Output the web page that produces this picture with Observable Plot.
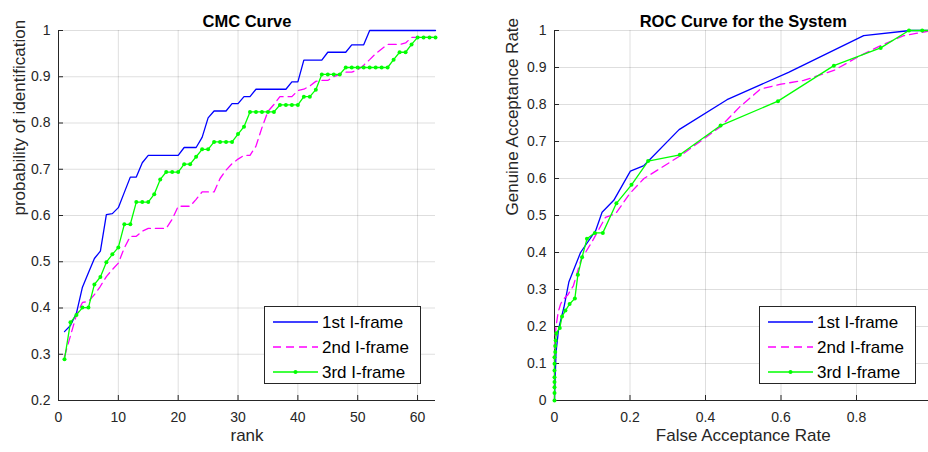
<!DOCTYPE html>
<html><head><meta charset="utf-8">
<script src="https://cdn.jsdelivr.net/npm/d3@7"></script>
<script src="https://cdn.jsdelivr.net/npm/@observablehq/plot@0.6"></script>
<style>
html,body{margin:0;padding:0;background:#fff;}
#wrap{position:relative;width:928px;height:452px;overflow:hidden;font-family:"Liberation Sans",Arial,sans-serif;}
#wrap .pane{position:absolute;top:0;}
.legend{position:absolute;background:#fff;border:1px solid #262626;box-sizing:border-box;}
</style></head><body><div id="wrap"></div>
<script>
// ---------- CMC data ----------
const rank = [1,2,3,4,5,6,7,8,9,10,11,12,13,14,15,16,17,18,19,20,21,22,23,24,25,26,27,28,29,30,31,32,33,34,35,36,37,38,39,40,41,42,43,44,45,46,47,48,49,50,51,52,53,54,55,56,57,58,59,60,61,62,63];
const cmcFirst = [0.349,0.362,0.389,0.445,0.476,0.507,0.523,0.602,0.604,0.617,0.650,0.683,0.683,0.714,0.730,
  0.730,0.730,0.730,0.730,0.730,0.747,0.747,0.747,0.769,0.811,0.826,0.826,0.826,0.842,0.842,0.857,0.857,
  0.873,0.873,0.873,0.873,0.873,0.873,0.889,0.889,0.936,0.936,0.936,0.936,0.953,0.953,0.953,0.953,
  0.969,0.969,0.969,1,1,1,1,1,1,1,1,1,1,1,1];
const cmcSecond = [0.295,0.34,0.385,0.412,0.414,0.429,0.447,0.468,0.483,0.497,0.53,0.555,0.555,0.566,0.572,
  0.572,0.572,0.572,0.592,0.620,0.620,0.620,0.635,0.651,0.651,0.651,0.680,0.698,0.712,0.722,0.730,0.730,
  0.75,0.79,0.825,0.84,0.857,0.857,0.857,0.87,0.873,0.88,0.89,0.892,0.892,0.90,0.905,0.91,0.91,0.915,
  0.925,0.937,0.95,0.96,0.97,0.97,0.97,0.973,0.985,0.985,0.985,0.985,0.985];
const cmcThird = [0.289,0.369,0.385,0.401,0.401,0.451,0.467,0.499,0.516,0.531,0.581,0.581,0.629,0.629,0.629,
  0.646,0.678,0.694,0.694,0.694,0.711,0.711,0.727,0.743,0.743,0.759,0.759,0.759,0.759,0.776,0.792,0.824,
  0.824,0.824,0.824,0.824,0.839,0.839,0.839,0.839,0.857,0.857,0.872,0.905,0.905,0.905,0.905,
  0.920,0.920,0.920,0.920,0.920,0.920,0.920,0.920,0.937,0.953,0.953,0.970,0.985,0.985,0.985,0.985];
const cmcXDomain = [0, 63];
const cmcYDomain = [0.2, 1];
const cmcXTicks = [0,10,20,30,40,50,60];
const cmcYTicks = [0.2,0.3,0.4,0.5,0.6,0.7,0.8,0.9,1];

// ---------- ROC data ----------
const rocFarFirst = [0,0.004,0.011,0.025,0.038,0.069,0.109,0.126,0.157,0.201,0.237,0.33,0.457,0.62,0.819,0.943,1];
const rocGarFirst = [0,0.13,0.194,0.252,0.32,0.40,0.459,0.509,0.541,0.62,0.635,0.732,0.813,0.887,0.986,1,1];
const rocFarSecond = [0,0,0.004,0.01,0.016,0.022,0.035,0.05,0.07,0.1,0.135,0.162,0.2,0.237,0.334,0.44,0.49,0.546,0.6,0.66,0.74,0.81,0.864,0.925,1];
const rocGarSecond = [0,0.15,0.2,0.24,0.26,0.272,0.285,0.31,0.38,0.43,0.495,0.505,0.56,0.60,0.662,0.74,0.793,0.842,0.855,0.865,0.892,0.932,0.959,0.986,1];
const rocFarThird = [0,0,0,0,0,0,0,0,0.002,0.002,0.003,0.005,0.014,0.02,0.029,0.04,0.054,0.062,0.073,0.086,0.107,0.128,0.164,0.204,0.248,0.332,0.44,0.592,0.74,0.864,0.939,0.974,1];
const rocGarThird = [0,0.02,0.036,0.05,0.063,0.081,0.099,0.117,0.131,0.147,0.162,0.182,0.196,0.227,0.243,0.261,0.276,0.34,0.387,0.437,0.453,0.453,0.533,0.583,0.647,0.664,0.743,0.809,0.905,0.953,1,1,1];
const rocXDomain = [0, 1];
const rocYDomain = [0, 1];
const rocXTicks = [0,0.2,0.4,0.6,0.8,1];
const rocYTicks = [0,0.1,0.2,0.3,0.4,0.5,0.6,0.7,0.8,0.9,1];

const seriesNames = ["1st I-frame", "2nd I-frame", "3rd I-frame"];
const seriesColors = ["#0000ff", "#ff00ff", "#00ff00"];

const FONT = '"Liberation Sans", Arial, sans-serif';
const AX = "#262626";
const fmt = d => String(d);

function chart(o) {
  return Plot.plot({
    width: o.width, height: 452,
    marginLeft: o.marginLeft, marginRight: o.marginRight, marginTop: 30, marginBottom: 52,
    style: {fontFamily: FONT, fontSize: "14px", color: AX, background: "transparent", overflow: "visible"},
    x: {domain: o.xDomain},
    y: {domain: o.yDomain},
    marks: [
      Plot.ruleX(o.xTicks, {stroke: "#000", strokeOpacity: 0.13}),
      Plot.ruleY(o.yTicks, {stroke: "#000", strokeOpacity: 0.13}),
      Plot.ruleX([o.xDomain[0]], {stroke: AX}),
      Plot.ruleY([o.yDomain[0]], {stroke: AX}),
      Plot.axisX(o.xTicks, {tickSize: -5, tickPadding: 17, tickFormat: fmt, fontSize: 14, label: null, stroke: AX}),
      Plot.axisY(o.yTicks, {tickSize: -5, tickPadding: 13, tickFormat: fmt, fontSize: 14, label: null, stroke: AX}),
      Plot.line(o.s1y, {x: o.s1x, y: d => d, stroke: seriesColors[0], strokeWidth: 1.3}),
      Plot.line(o.s2y, {x: o.s2x, y: d => d, stroke: seriesColors[1], strokeWidth: 1.3, strokeDasharray: "8,5"}),
      Plot.line(o.s3y, {x: o.s3x, y: d => d, stroke: seriesColors[2], strokeWidth: 1.3}),
      Plot.dot(o.s3y, {x: o.s3x, y: d => d, r: 2, fill: seriesColors[2], stroke: null}),
      Plot.text([o.title], {frameAnchor: "top", dy: -15, fontWeight: "bold", fontSize: 16.5, fill: "#000"}),
      Plot.text([o.xLabel], {frameAnchor: "bottom", dy: 40, fontSize: 17, fill: AX}),
      Plot.text([o.yLabel], {frameAnchor: "left", dx: o.yLabelDx, rotate: -90, fontSize: 17, fill: AX})
    ]
  });
}

function legend(left, top) {
  const div = document.createElement("div");
  div.className = "legend";
  Object.assign(div.style, {left: left + "px", top: top + "px", width: "157px", height: "78px"});
  const ns = "http://www.w3.org/2000/svg";
  const svg = document.createElementNS(ns, "svg");
  svg.setAttribute("width", 155); svg.setAttribute("height", 76);
  svg.style.display = "block";
  seriesNames.forEach((name, i) => {
    const y = 15 + i * 25;
    const line = document.createElementNS(ns, "line");
    line.setAttribute("x1", 8); line.setAttribute("x2", 53);
    line.setAttribute("y1", y); line.setAttribute("y2", y);
    line.setAttribute("stroke", seriesColors[i]);
    line.setAttribute("stroke-width", 1.3);
    if (i === 1) line.setAttribute("stroke-dasharray", "8,5");
    svg.appendChild(line);
    if (i === 2) {
      const c = document.createElementNS(ns, "circle");
      c.setAttribute("cx", 30.5); c.setAttribute("cy", y); c.setAttribute("r", 2);
      c.setAttribute("fill", seriesColors[i]);
      svg.appendChild(c);
    }
    const t = document.createElementNS(ns, "text");
    t.setAttribute("x", 57); t.setAttribute("y", y);
    t.setAttribute("dy", "0.35em");
    t.setAttribute("font-size", 17);
    t.setAttribute("font-family", FONT);
    t.setAttribute("fill", "#000");
    t.textContent = name;
    svg.appendChild(t);
  });
  div.appendChild(svg);
  return div;
}

const wrap = document.getElementById("wrap");

const cmc = chart({
  width: 464, marginLeft: 58, marginRight: 29,
  xDomain: cmcXDomain, yDomain: cmcYDomain, xTicks: cmcXTicks, yTicks: cmcYTicks,
  s1x: rank, s1y: cmcFirst, s2x: rank, s2y: cmcSecond, s3x: rank, s3y: cmcThird,
  title: "CMC Curve", xLabel: "rank", yLabel: "probability of identification", yLabelDx: -39
});
cmc.classList.add("pane");
cmc.style.left = "0px";
wrap.appendChild(cmc);

const roc = chart({
  width: 480, marginLeft: 90, marginRight: 12.5,
  xDomain: rocXDomain, yDomain: rocYDomain, xTicks: rocXTicks, yTicks: rocYTicks,
  s1x: rocFarFirst, s1y: rocGarFirst, s2x: rocFarSecond, s2y: rocGarSecond, s3x: rocFarThird, s3y: rocGarThird,
  title: "ROC Curve for the System", xLabel: "False Acceptance Rate", yLabel: "Genuine Acceptance Rate", yLabelDx: -42
});
roc.classList.add("pane");
roc.style.left = "464px";
wrap.appendChild(roc);

wrap.appendChild(legend(264, 306));
wrap.appendChild(legend(759, 306));
</script></body></html>
